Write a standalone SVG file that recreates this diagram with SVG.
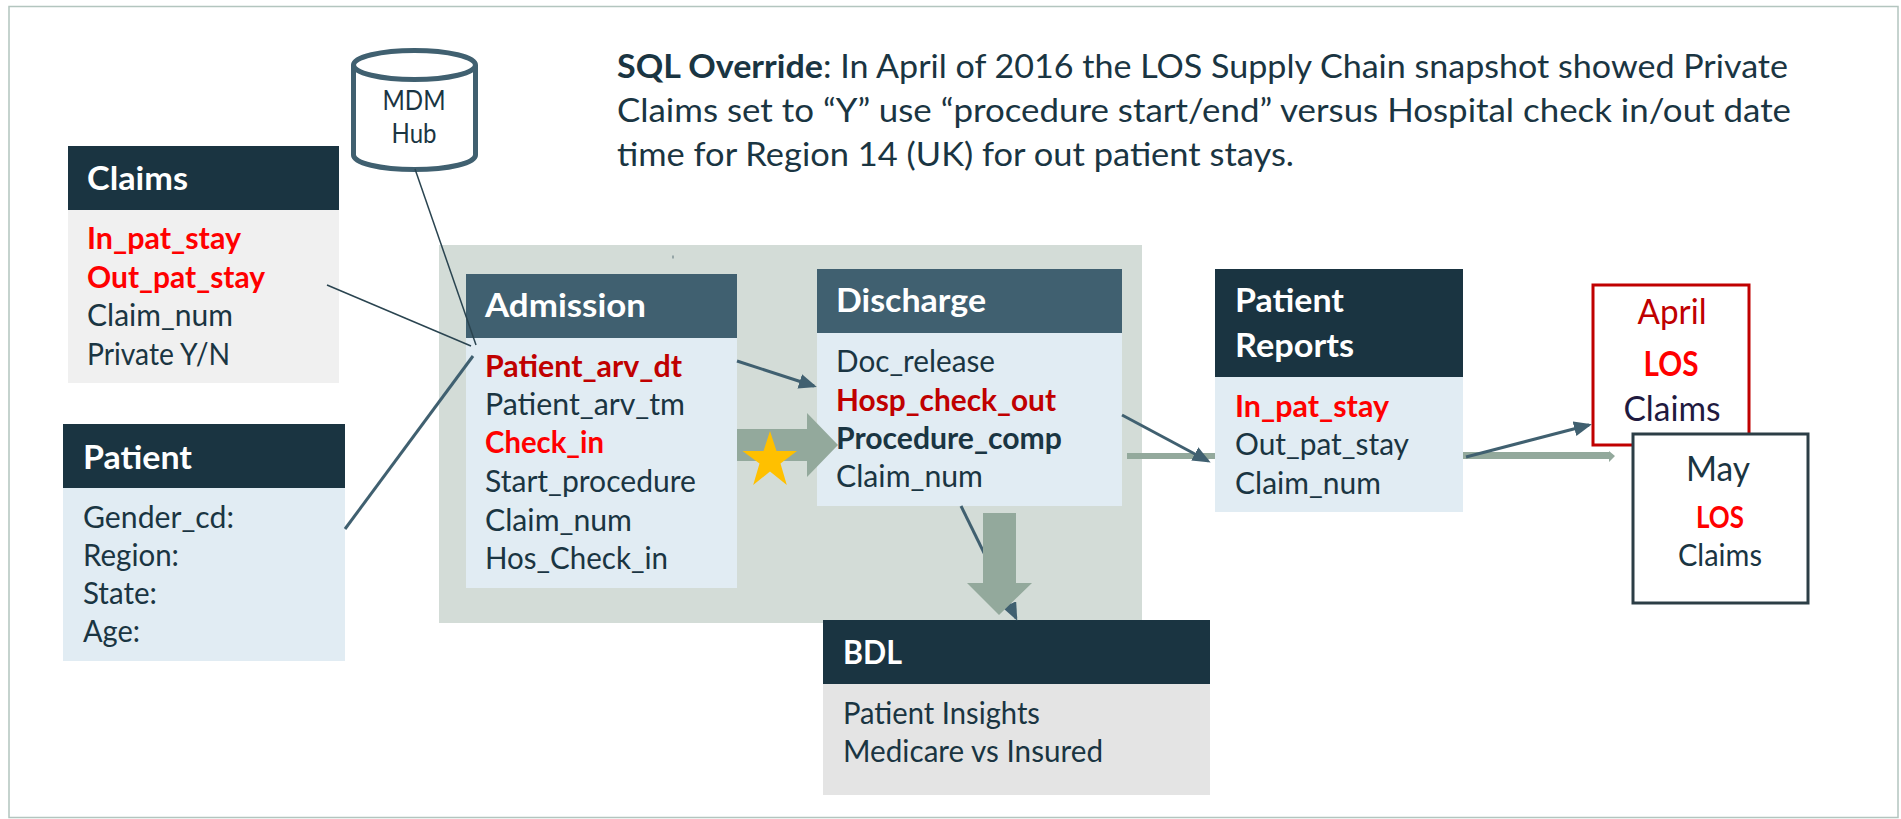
<svg xmlns="http://www.w3.org/2000/svg" width="1901" height="819" viewBox="0 0 1901 819">
<style>
text{font-family:"Lato","Carlito","Open Sans",sans-serif;fill:#1a3542;font-size:30px}
.h{font-size:33px;font-weight:700;fill:#fff}
.b{font-weight:700}
.r{font-weight:700;fill:#f00}
.d{font-weight:700;fill:#c00000}
.m{text-anchor:middle}
.n{font-size:32px}
.hd{fill:#1a3441}
.hl{fill:#406070}
.bb{fill:#e1ecf3}
.ln{fill:none;stroke:#406070;stroke-width:3}
.th{fill:none;stroke:#2a4450;stroke-width:1.5}
.fat{fill:#93a99c}
</style>
<defs>
<marker id="ah" markerUnits="userSpaceOnUse" markerWidth="18" markerHeight="16" refX="15" refY="7.5" orient="auto"><path d="M0 0L18 7.5L0 15z" fill="#406070"/></marker>
</defs>
<rect x="9" y="6.500" width="1889" height="811" fill="#fff" stroke="#b3c5bf" stroke-width="1.500"/>
<rect id="panel" x="439" y="245" width="703" height="378" fill="#d3dcd7"/>
<rect x="672.500" y="255.500" width="1" height="3" fill="#5a7078"/>
<g id="sql-note">
<text class="n" x="617" y="78" textLength="1171" lengthAdjust="spacingAndGlyphs"><tspan class="b">SQL Override</tspan>: In April of 2016 the LOS Supply Chain snapshot showed Private</text>
<text class="n" x="617" y="122" textLength="1174" lengthAdjust="spacingAndGlyphs">Claims set to “Y” use “procedure start/end” versus Hospital check in/out date</text>
<text class="n" x="617" y="166" textLength="677" lengthAdjust="spacingAndGlyphs">time for Region 14 (UK) for out patient stays.</text>
</g>
<g id="mdm-hub">
<path d="M353.500 65V155C353.500 163 380 169.500 414.500 169.500S475.500 163 475.500 155V65" fill="#fff" stroke="#406070" stroke-width="5"/>
<ellipse cx="414.500" cy="65" rx="61" ry="14.500" fill="#fff" stroke="#406070" stroke-width="5"/>
<text class="m" x="414" y="110" style="font-size:26px" textLength="63" lengthAdjust="spacingAndGlyphs">MDM</text>
<text class="m" x="414" y="143" style="font-size:26px" textLength="45" lengthAdjust="spacingAndGlyphs">Hub</text>
</g>
<g id="claims">
<rect x="68" y="210" width="271" height="173" fill="#f0f0f0"/><rect class="hd" x="68" y="146" width="271" height="64"/>
<text class="h" x="87" y="190" textLength="101" lengthAdjust="spacingAndGlyphs">Claims</text>
<text class="r" x="87" y="249" textLength="154" lengthAdjust="spacingAndGlyphs">In_pat_stay</text>
<text class="r" x="87" y="288" textLength="178" lengthAdjust="spacingAndGlyphs">Out_pat_stay</text>
<text x="87" y="326" textLength="146" lengthAdjust="spacingAndGlyphs">Claim_num</text>
<text x="87" y="365" textLength="143" lengthAdjust="spacingAndGlyphs">Private Y/N</text>
</g>
<g id="patient">
<rect class="bb" x="63" y="488" width="282" height="173"/><rect class="hd" x="63" y="424" width="282" height="64"/>
<text class="h" x="83" y="469" textLength="109" lengthAdjust="spacingAndGlyphs">Patient</text>
<text x="83" y="528" textLength="151" lengthAdjust="spacingAndGlyphs">Gender_cd:</text>
<text x="83" y="566" textLength="96" lengthAdjust="spacingAndGlyphs">Region:</text>
<text x="83" y="604" textLength="74" lengthAdjust="spacingAndGlyphs">State:</text>
<text x="83" y="642" textLength="57" lengthAdjust="spacingAndGlyphs">Age:</text>
</g>
<g id="admission">
<rect class="bb" x="466" y="338" width="271" height="250"/><rect class="hl" x="466" y="274" width="271" height="64"/>
<text class="h" x="485" y="317" textLength="161" lengthAdjust="spacingAndGlyphs">Admission</text>
<text class="d" x="485" y="377" textLength="197" lengthAdjust="spacingAndGlyphs">Patient_arv_dt</text>
<text x="485" y="415" textLength="200" lengthAdjust="spacingAndGlyphs">Patient_arv_tm</text>
<text class="r" x="485" y="453" textLength="119" lengthAdjust="spacingAndGlyphs">Check_in</text>
<text x="485" y="492" textLength="211" lengthAdjust="spacingAndGlyphs">Start_procedure</text>
<text x="485" y="531" textLength="147" lengthAdjust="spacingAndGlyphs">Claim_num</text>
<text x="485" y="569" textLength="183" lengthAdjust="spacingAndGlyphs">Hos_Check_in</text>
</g>
<g id="discharge">
<rect class="bb" x="817" y="333" width="305" height="173"/><rect class="hl" x="817" y="269" width="305" height="64"/>
<text class="h" x="836" y="312" textLength="150" lengthAdjust="spacingAndGlyphs">Discharge</text>
<text x="836" y="372" textLength="159" lengthAdjust="spacingAndGlyphs">Doc_release</text>
<text class="d" x="836" y="411" textLength="220" lengthAdjust="spacingAndGlyphs">Hosp_check_out</text>
<text class="b" x="836" y="449" textLength="226" lengthAdjust="spacingAndGlyphs">Procedure_comp</text>
<text x="836" y="487" textLength="147" lengthAdjust="spacingAndGlyphs">Claim_num</text>
</g>
<g id="patient-reports">
<rect class="bb" x="1215" y="377" width="248" height="135"/><rect class="hd" x="1215" y="269" width="248" height="108"/>
<text class="h" x="1235" y="312" textLength="109" lengthAdjust="spacingAndGlyphs">Patient</text>
<text class="h" x="1235" y="357" textLength="119" lengthAdjust="spacingAndGlyphs">Reports</text>
<text class="r" x="1235" y="417" textLength="154" lengthAdjust="spacingAndGlyphs">In_pat_stay</text>
<text x="1235" y="455" textLength="174" lengthAdjust="spacingAndGlyphs">Out_pat_stay</text>
<text x="1235" y="494" textLength="146" lengthAdjust="spacingAndGlyphs">Claim_num</text>
</g>
<g id="april">
<rect x="1593" y="285" width="156" height="160" fill="#fff" stroke="#c00000" stroke-width="3"/>
<text class="m" x="1672" y="324" style="font-size:35px;fill:#c00000" textLength="69" lengthAdjust="spacingAndGlyphs">April</text>
<text class="m" x="1671" y="376" style="font-size:35px;font-weight:700;fill:#f00" textLength="55" lengthAdjust="spacingAndGlyphs">LOS</text>
<text class="m" x="1672" y="421" style="font-size:35px;fill:#1f1a3f" textLength="97" lengthAdjust="spacingAndGlyphs">Claims</text>
</g>
<g id="may">
<rect x="1633" y="434" width="175" height="169" fill="#fff" stroke="#2c3e46" stroke-width="3"/>
<text class="m" x="1718" y="481" style="font-size:35px" textLength="64" lengthAdjust="spacingAndGlyphs">May</text>
<text class="m" x="1720" y="528" style="font-size:30px;font-weight:700;fill:#f00" textLength="48" lengthAdjust="spacingAndGlyphs">LOS</text>
<text class="m" x="1720" y="566" style="font-size:30px" textLength="84" lengthAdjust="spacingAndGlyphs">Claims</text>
</g>
<g id="bdl">
<rect x="823" y="684" width="387" height="111" fill="#e4e4e4"/><rect class="hd" x="823" y="620" width="387" height="64"/>
<text class="h" x="843" y="664" textLength="59" lengthAdjust="spacingAndGlyphs">BDL</text>
<text x="843" y="724" textLength="197" lengthAdjust="spacingAndGlyphs">Patient Insights</text>
<text x="843" y="762" textLength="260" lengthAdjust="spacingAndGlyphs">Medicare vs Insured</text>
</g>
<g id="connectors">
<path class="fat" d="M1127 453H1215V459H1127z"/>
<path class="fat" d="M1463 452H1609V451L1615 456L1609 462V459H1463z"/>
<line class="th" x1="415" y1="169" x2="476" y2="345"/>
<line class="th" x1="327" y1="285" x2="471" y2="346"/>
<line class="ln" x1="345" y1="529" x2="473" y2="356"/>
<line class="ln" x1="737" y1="361" x2="814" y2="386" marker-end="url(#ah)"/>
<line class="ln" x1="1122" y1="415" x2="1208" y2="461" marker-end="url(#ah)"/>
<line class="ln" x1="1466" y1="457" x2="1589" y2="425" marker-end="url(#ah)"/>
<line class="ln" x1="961" y1="506" x2="1016" y2="618" marker-end="url(#ah)"/>
<path class="fat" d="M737 429H807V413L838 445L807 477V461H737z"/>
<path class="fat" d="M983 513H1016V583H1032L999 615L967 583H983z"/>
<path id="star" d="M770 431L776.500 451H797L780.500 463.500L786.800 485L770 471.500L753.200 485L759.500 463.500L742.500 451H763.500z" fill="#ffc000"/>
</g>
</svg>
